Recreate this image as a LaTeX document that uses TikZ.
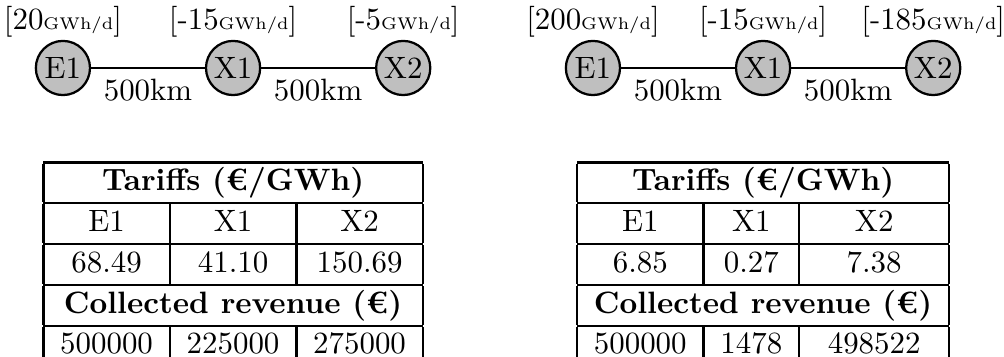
\documentclass[tikz,border=0pt,11pt]{standalone}
\usepackage{fontspec}
\usepackage{tikz}
\usetikzlibrary{positioning}
\setlength{\arrayrulewidth}{0.9pt}
\tikzstyle{station} = [circle, draw=black, thick, fill=gray!50, minimum size=19.2pt, inner sep=1pt, on grid]
\tikzstyle{demand} = [inner sep=0pt]
\tikzstyle{link} = [thick]
\tikzstyle{tariffs} = [inner sep=0pt]

\begin{document}
\begin{tikzpicture}[node distance=2.12cm]
    \useasboundingbox (0,0) rectangle (12.51,-4.44);
    % low entry flow
    \node (E1) [station] at (0.784,-0.847) {E1};
    \node (X1) [station, right=of E1] {X1};
    \node (X2) [station, right=of X1] {X2};
    \node (dE1) [demand, above=0.7pt of E1] {[20{\tiny GWh/d}]};
    \node (dX1) [demand, above=0.7pt of X1] {[-15{\tiny GWh/d}]};
    \node (dX2) [demand, above=0.7pt of X2] {[-5{\tiny GWh/d}]};

    \draw [link] (E1) -- node (kA) [below] {500km} (X1);
    \draw [link] (X1) -- node (kB) [below] {500km} (X2);

    \node (tabA) [tariffs, below=0.8cm of X1] {%
        \begin{tabular}{|c|c|c|}\hline
        \multicolumn{3}{|c|}{\textbf{Tariffs (€/GWh)}}\\\hline
        E1 & X1 & X2\\\hline
        68.49 & 41.10 & 150.69\\\hline
        \multicolumn{3}{|c|}{\textbf{Collected revenue (€)}}\\\hline
        500000 & 225000 & 275000\\\hline
        \end{tabular}};

    % high entry flow
    \node (E1b) [station] at (7.388,-0.847) {E1};
    \node (X1b) [station, right=of E1b] {X1};
    \node (X2b) [station, right=of X1b] {X2};
    \node (dE1b) [demand, above=0.7pt of E1b] {[200{\tiny GWh/d}]};
    \node (dX1b) [demand, above=0.7pt of X1b] {[-15{\tiny GWh/d}]};
    \node (dX2b) [demand, above=0.7pt of X2b] {[-185{\tiny GWh/d}]};

    \draw [link] (E1b) -- node (kC) [below] {500km} (X1b);
    \draw [link] (X1b) -- node (kD) [below] {500km} (X2b);

    \node (tabB) [tariffs, below=0.8cm of X1b] {%
        \begin{tabular}{|c|c|c|}\hline
        \multicolumn{3}{|c|}{\textbf{Tariffs (€/GWh)}}\\\hline
        E1 & X1 & X2\\\hline
        6.85 & 0.27 & 7.38\\\hline
        \multicolumn{3}{|c|}{\textbf{Collected revenue (€)}}\\\hline
        500000 & 1478 & 498522\\\hline
        \end{tabular}};
\end{tikzpicture}
\end{document}
